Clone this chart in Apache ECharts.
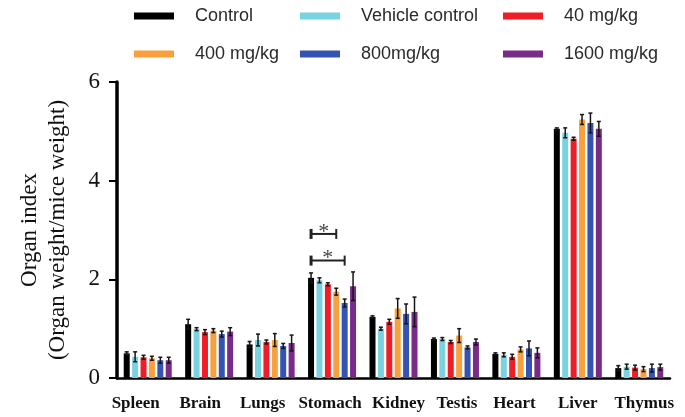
<!DOCTYPE html>
<html>
<head>
<meta charset="utf-8">
<script src="https://cdn.jsdelivr.net/npm/echarts@6/dist/echarts.min.js"></script>
<style>html,body{margin:0;padding:0;background:#fff;}#chart{width:685px;height:417px;}</style>
</head>
<body>
<div id="chart"></div>
<script>
var categories = ['Spleen','Brain','Lungs','Stomach','Kidney','Testis','Heart','Liver','Thymus'];
var seriesNames = ['Control','Vehicle control','40 mg/kg','400 mg/kg','800mg/kg','1600 mg/kg'];
var control   = [0.50,1.09,0.68,2.03,1.24,0.79,0.49,5.05,0.20];
var vehicle   = [0.43,0.99,0.77,1.98,1.00,0.79,0.47,4.97,0.23];
var mg40      = [0.42,0.93,0.73,1.90,1.14,0.73,0.43,4.85,0.21];
var mg400     = [0.40,0.96,0.77,1.75,1.41,0.86,0.58,5.24,0.18];
var mg800     = [0.36,0.89,0.65,1.52,1.30,0.62,0.60,5.17,0.20];
var mg1600    = [0.36,0.94,0.71,1.86,1.34,0.73,0.51,5.05,0.22];
var controlErr = [0.03,0.10,0.06,0.10,0.02,0.02,0.02,0.02,0.05];
var vehicleErr = [0.10,0.03,0.12,0.05,0.03,0.03,0.04,0.10,0.05];
var mg40Err    = [0.04,0.05,0.04,0.03,0.05,0.03,0.05,0.03,0.05];
var mg400Err   = [0.04,0.04,0.13,0.07,0.20,0.14,0.05,0.10,0.05];
var mg800Err   = [0.06,0.06,0.05,0.08,0.20,0.03,0.15,0.20,0.08];
var mg1600Err  = [0.06,0.08,0.16,0.29,0.30,0.06,0.10,0.15,0.06];
// significance brackets: [categoryIndex, level, fromSeries, toSeries]
var brackets = [[3, 2.92, 0, 3], [3, 2.38, 0, 4]];
var yTicks = [0, 2, 4, 6];

// styling
var colors = ['#000000','#78d2df','#ee1d26','#f8a03e','#3652b2','#7a2a88'];
var labelShift = [-12, -9, -8, -2, 5, 2, -2, 0, 5]; // horizontal label nudges (px)
var values = [control, vehicle, mg40, mg400, mg800, mg1600];
var errs = [controlErr, vehicleErr, mg40Err, mg400Err, mg800Err, mg1600Err];

var BAR_W = 6, GAP = 0.4, STEP = BAR_W * (1 + GAP);
var SERIF = '"Liberation Serif", "Times New Roman", serif';

var series = values.map(function (v, i) {
  return {
    name: seriesNames[i], type: 'bar', data: v,
    barWidth: BAR_W, barGap: (GAP * 100) + '%',
    itemStyle: { color: colors[i] }, z: 2
  };
});

var errData = [];
values.forEach(function (v, s) {
  v.forEach(function (m, c) { errData.push([c, s, m, errs[s][c]]); });
});

series.push({
  type: 'custom', z: 5, silent: true,
  encode: { x: 0, y: 2 },
  data: errData,
  renderItem: function (params, api) {
    var c = api.value(0), s = api.value(1), m = api.value(2), e = api.value(3);
    var top = api.coord([c, m + e]);
    var bot = api.coord([c, m - e]);
    var x = top[0] + (s - 2.5) * STEP;
    var cap = 2;
    var st = { stroke: '#151515', lineWidth: 1.5 };
    return { type: 'group', children: [
      { type: 'line', shape: { x1: x, y1: top[1], x2: x, y2: bot[1] }, style: st },
      { type: 'line', shape: { x1: x - cap, y1: top[1], x2: x + cap, y2: top[1] }, style: st },
      { type: 'line', shape: { x1: x - cap, y1: bot[1], x2: x + cap, y2: bot[1] }, style: st }
    ]};
  }
});

series.push({
  type: 'custom', z: 5, silent: true,
  encode: { x: 0, y: 1 },
  data: brackets,
  renderItem: function (params, api) {
    var c = api.value(0), lvl = api.value(1), f = api.value(2), t = api.value(3);
    var p = api.coord([c, lvl]);
    var x1 = p[0] + (f - 2.5) * STEP, x2 = p[0] + (t - 2.5) * STEP;
    var y = p[1];
    var st = { stroke: '#222', lineWidth: 2 };
    return { type: 'group', children: [
      { type: 'line', shape: { x1: x1, y1: y, x2: x2, y2: y }, style: st },
      { type: 'line', shape: { x1: x1, y1: y - 5, x2: x1, y2: y + 5 }, style: { stroke: '#222', lineWidth: 3 } },
      { type: 'line', shape: { x1: x2, y1: y - 5, x2: x2, y2: y + 5 }, style: st },
      { type: 'text', style: { text: '*', x: (x1 + x2) / 2, y: y - 2, align: 'center', verticalAlign: 'middle',
        font: '22px ' + SERIF, fill: '#444' } }
    ]};
  }
});

var legendPos = [[134, 7], [300, 7], [503, 7], [134, 45], [300, 45], [503, 45]];
var legends = seriesNames.map(function (n, i) {
  return {
    data: [n], left: legendPos[i][0], top: legendPos[i][1], padding: 0,
    icon: 'rect', itemWidth: 40, itemHeight: 7,
    selectedMode: false,
    textStyle: { fontFamily: '"Liberation Sans", Arial, sans-serif', fontSize: 18, color: '#2a2a2a', padding: [0, 0, 0, 16] }
  };
});

var rich = {};
labelShift.forEach(function (d, i) {
  rich['l' + i] = {
    fontFamily: SERIF, fontWeight: 'bold', fontSize: 17, color: '#111',
    padding: d < 0 ? [0, -2 * d, 0, 0] : [0, 0, 0, 2 * d]
  };
});

var chart = echarts.init(document.getElementById('chart'), null, { renderer: 'canvas' });
chart.setOption({
  animation: false,
  color: colors,
  legend: legends,
  grid: { left: 117, right: 15, top: 82, bottom: 39, containLabel: false, outerBoundsMode: 'none' },
  xAxis: {
    type: 'category', data: categories,
    axisLine: { lineStyle: { color: '#000', width: 2.5 } },
    axisTick: { alignWithLabel: true, length: 7, lineStyle: { color: '#000', width: 3 } },
    axisLabel: {
      margin: 17, interval: 0, color: '#111', fontFamily: SERIF, fontWeight: 'bold', fontSize: 17,
      formatter: function (v, i) { return '{l' + i + '|' + v + '}'; },
      rich: rich
    }
  },
  yAxis: {
    type: 'value', min: yTicks[0], max: yTicks[yTicks.length - 1], interval: 2,
    name: 'Organ index\n(Organ weight/mice weight)',
    nameLocation: 'middle', nameRotate: 90, nameGap: 45,
    nameTextStyle: { fontFamily: SERIF, fontSize: 23, color: '#111', lineHeight: 28 },
    axisLine: { show: true, lineStyle: { color: '#000', width: 3.5 } },
    axisTick: { show: true, length: 8, lineStyle: { color: '#000', width: 2 } },
    splitLine: { show: false },
    axisLabel: { margin: 17, color: '#111', fontFamily: SERIF, fontSize: 23 }
  },
  series: series
});
</script>
</body>
</html>
